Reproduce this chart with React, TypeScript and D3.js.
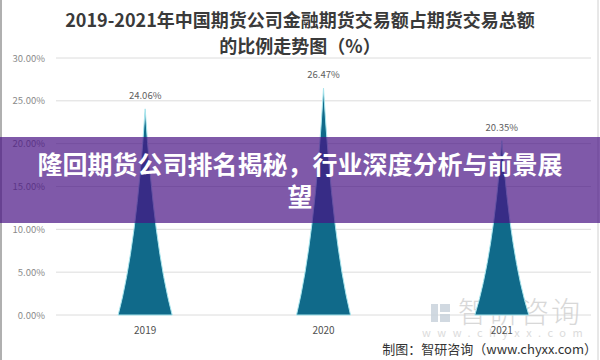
import React from "react";
import * as d3 from "d3";

const years = ["2019", "2020", "2021"];
const shares = [24.06, 26.47, 20.35];
const yTicks = [0, 5, 10, 15, 20, 25, 30];
const titleLines = ["2019-2021年中国期货公司金融期货交易额占期货交易总额", "的比例走势图（%）"];
const bannerLines = ["隆回期货公司排名揭秘，行业深度分析与前景展", "望"];

export default function App() {
  const W = 600, H = 360;
  const left = 56, right = 591, top = 58, bottom = 315;
  const x = d3.scaleBand<string>().domain(years).range([left, right]).padding(0);
  const y = d3.scaleLinear().domain([0, 30]).range([bottom, top]);
  const halfW = 27;

  const spike = (cx: number, v: number) => {
    const y0 = y(0), yt = y(v), h = y0 - yt;
    const k = 0.33;
    const p = d3.path();
    p.moveTo(cx - halfW, y0);
    p.quadraticCurveTo(cx - halfW * k, y0 - h * k, cx, yt);
    p.quadraticCurveTo(cx + halfW * k, y0 - h * k, cx + halfW, y0);
    p.closePath();
    return p.toString();
  };

  return (
    <svg width={W} height={H} style={{ position: "fixed", left: 0, top: 0, background: "#fff" }}
      fontFamily="'Noto Sans CJK SC', 'Noto Sans', sans-serif">
      <rect x={0} y={0} width={W} height={H} fill="#fff" />
      <line x1={1} x2={1} y1={0} y2={H} stroke="#b0b0b0" strokeWidth={2} />
      <line x1={598} x2={598} y1={0} y2={H} stroke="#d0d0d0" strokeWidth={1} />
      {titleLines.map((t, i) => (
        <text key={i} x={300} y={27 + i * 26} textAnchor="middle" fontSize={18} fontWeight="bold"
          fill="#3a3a3a" fontFamily="'Noto Sans CJK SC', sans-serif">{t}</text>
      ))}
      {yTicks.map((t) => (
        <g key={t}>
          <line x1={left} x2={right} y1={y(t)} y2={y(t)} stroke="#dcdcdc" strokeWidth={1} />
          <text x={45} y={y(t) + 3.5} textAnchor="end" fontSize={9.5} fill="#8a8a8a">{t.toFixed(2)}%</text>
        </g>
      ))}
      {/* watermark */}
      <g opacity={0.85}>
        <rect x={431} y={304} width={7} height={18} fill="#c9d3dc" />
        <rect x={440} y={304} width={10} height={8} fill="#c9d3dc" />
        <rect x={440} y={314} width={10} height={8} fill="#c9d3dc" />
        <text x={458} y={323} fontSize={29} fill="#d2d2d2" letterSpacing={2} fontWeight={300}>智研咨询</text>
        <text x={422} y={337} fontSize={11} fill="#d6d6d6" letterSpacing={6.5}>www.chyxx.com</text>
      </g>
      {years.map((yr, i) => {
        const cx = (x(yr) as number) + x.bandwidth() / 2;
        return (
          <g key={yr}>
            <path d={spike(cx, shares[i])} fill="#106a8a" stroke="#a8e6ee" strokeWidth={1} />
            <text x={cx} y={y(shares[i]) - 10} textAnchor="middle" fontSize={9.5} fill="#606060">
              {shares[i].toFixed(2)}%
            </text>
            <text x={cx} y={334} textAnchor="middle" fontSize={10} fill="#505050">{yr}</text>
          </g>
        );
      })}
      <text x={597} y={354} textAnchor="end" fontSize={13} fill="#333">制图：智研咨询（www.chyxx.com）</text>
      {/* banner overlay */}
      <rect x={0} y={137} width={W} height={86} fill="rgb(72,18,132)" fillOpacity={0.7} />
      {bannerLines.map((t, i) => (
        <text key={i} x={300} y={174 + i * 32} textAnchor="middle" fontSize={25} fontWeight="bold"
          fill="#fff" fontFamily="'Noto Sans CJK SC', sans-serif">{t}</text>
      ))}
    </svg>
  );
}
